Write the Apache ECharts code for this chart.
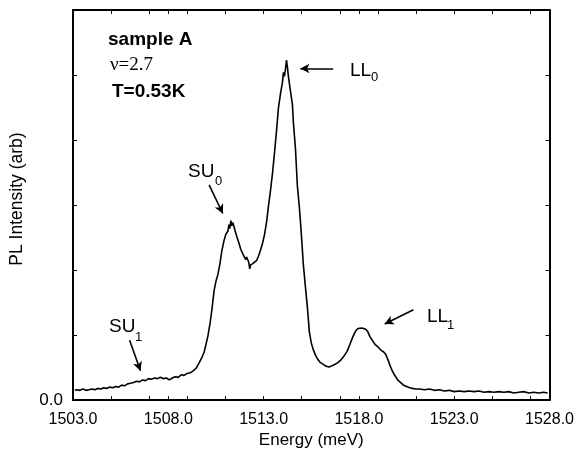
<!DOCTYPE html>
<html>
<head>
<meta charset="utf-8">
<script src="https://cdn.jsdelivr.net/npm/echarts@6/dist/echarts.min.js"></script>
<style>html,body{margin:0;padding:0;background:#fff;}#c{width:577px;height:454px;}</style>
</head>
<body>
<div id="c"></div>
<script>
// Energy (meV)
var energy = [
1503.10,1503.21,1503.36,1503.52,1503.68,1503.83,1503.99,1504.15,1504.30,1504.46,
1504.61,1504.77,1504.93,1505.08,1505.24,1505.40,1505.55,1505.71,1505.86,1506.02,
1506.18,1506.33,1506.49,1506.65,1506.80,1506.96,1507.11,1507.27,1507.43,1507.58,
1507.74,1507.90,1508.05,1508.21,1508.36,1508.52,1508.68,1508.83,1508.99,1509.15,
1509.30,1509.46,1509.61,1509.77,1509.88,1509.98,1510.08,1510.19,1510.29,1510.40,
1510.50,1510.60,1510.71,1510.81,1510.92,1511.02,1511.13,1511.18,1511.23,1511.28,
1511.33,1511.39,1511.49,1511.59,1511.70,1511.80,1511.91,1512.01,1512.06,1512.11,
1512.22,1512.27,1512.32,1512.43,1512.53,1512.64,1512.74,1512.84,1512.95,1513.05,
1513.16,1513.26,1513.36,1513.47,1513.57,1513.68,1513.78,1513.89,1513.99,1514.04,
1514.09,1514.15,1514.20,1514.25,1514.30,1514.41,1514.51,1514.56,1514.67,1514.77,
1514.88,1514.98,1515.08,1515.19,1515.29,1515.40,1515.50,1515.60,1515.71,1515.81,
1515.97,1516.13,1516.28,1516.44,1516.59,1516.75,1516.91,1517.06,1517.22,1517.38,
1517.53,1517.69,1517.84,1517.95,1518.05,1518.16,1518.26,1518.36,1518.47,1518.57,
1518.68,1518.83,1518.99,1519.15,1519.30,1519.41,1519.51,1519.61,1519.72,1519.82,
1519.93,1520.03,1520.19,1520.34,1520.50,1520.66,1520.81,1520.97,1521.18,1521.44,
1521.70,1521.96,1522.22,1522.48,1522.74,1523.00,1523.26,1523.52,1523.78,1524.04,
1524.30,1524.56,1524.82,1525.08,1525.34,1525.60,1525.86,1526.13,1526.39,1526.65,
1526.91,1527.17,1527.43,1527.69,1527.90
];
// PL intensity (arb)
var intensity = [
0.15,0.16,0.15,0.17,0.15,0.16,0.17,0.16,0.18,0.17,
0.19,0.18,0.20,0.19,0.21,0.20,0.23,0.22,0.25,0.26,
0.27,0.29,0.28,0.31,0.30,0.33,0.32,0.34,0.33,0.35,
0.33,0.34,0.31,0.34,0.36,0.35,0.39,0.38,0.41,0.42,
0.45,0.49,0.57,0.66,0.74,0.86,0.99,1.18,1.40,1.68,
1.83,1.93,2.10,2.30,2.45,2.55,2.60,2.70,2.64,2.76,
2.68,2.73,2.62,2.52,2.42,2.32,2.25,2.24,2.16,2.20,
2.12,2.02,2.08,2.10,2.08,2.15,2.22,2.31,2.42,2.55,
2.75,3.00,3.22,3.50,3.80,4.15,4.50,4.72,4.89,5.04,
4.98,5.10,5.23,5.12,4.98,4.75,4.55,4.28,3.87,3.30,
2.95,2.55,2.10,1.75,1.45,1.05,0.88,0.78,0.70,0.64,
0.58,0.55,0.52,0.51,0.53,0.55,0.58,0.62,0.68,0.75,
0.86,0.98,1.07,1.10,1.12,1.11,1.12,1.09,1.05,0.98,
0.93,0.86,0.82,0.77,0.74,0.70,0.63,0.55,0.47,0.41,
0.36,0.31,0.27,0.23,0.21,0.19,0.18,0.17,0.17,0.16,
0.17,0.15,0.16,0.14,0.15,0.13,0.14,0.13,0.14,0.13,
0.14,0.12,0.13,0.12,0.13,0.12,0.13,0.11,0.12,0.13,
0.11,0.12,0.11,0.12,0.11
];
var xTickLabels = ['1503.0','1508.0','1513.0','1518.0','1523.0','1528.0'];
var xMajorTicks = [1503, 1508, 1513, 1518, 1523, 1528];
var xAllTicks = [1503, 1505, 1507, 1508, 1509, 1511, 1513, 1515, 1517, 1518, 1519, 1521, 1523, 1525, 1527, 1528];
var yTickLabels = ['0.0'];

var font = '"Liberation Sans", Arial, sans-serif';
var serif = '"Liberation Serif", "Times New Roman", serif';
var data = energy.map(function (e, i) { return [e, intensity[i]]; });

var chart = echarts.init(document.getElementById('c'), null, {renderer: 'canvas'});
var black = '#000';
function frameX(pos, show) {
  return {
    type: 'value', position: pos, min: 1503, max: 1528, interval: 1,
    axisLine: {show: true, onZero: false, lineStyle: {color: black, width: 2}},
    axisTick: {show: true, inside: true, length: 4, customValues: xAllTicks, lineStyle: {color: black, width: 1}},
    axisLabel: {show: show, color: black, fontFamily: font, fontSize: 16, margin: 11,
      customValues: xMajorTicks,
      formatter: function (v) { return xTickLabels[xMajorTicks.indexOf(Math.round(v))] || ''; }},
    splitLine: {show: false}
  };
}
var xb = frameX('bottom', true);
xb.name = 'Energy (meV)';
xb.nameLocation = 'middle';
xb.nameGap = 24;
xb.nameTextStyle = {color: black, fontFamily: font, fontSize: 17};

var option = {
  animation: false,
  backgroundColor: '#fff',
  grid: {left: 71, right: 26, top: 10, bottom: 48},
  xAxis: [xb, frameX('top', false)],
  yAxis: [
    {type: 'value', position: 'left', min: 0, max: 6, interval: 1,
     axisLine: {show: true, onZero: false, lineStyle: {color: black, width: 2}},
     axisTick: {show: true, inside: true, length: 4, lineStyle: {color: black, width: 1}},
     axisLabel: {show: true, color: black, fontFamily: font, fontSize: 17, margin: 10,
       formatter: function (v) { return v === 0 ? yTickLabels[0] : ''; }},
     splitLine: {show: false},
     name: 'PL Intensity (arb)', nameLocation: 'middle', nameGap: 47,
     nameTextStyle: {color: black, fontFamily: font, fontSize: 17.5, padding: [0, 0, 0, 12]}},
    {type: 'value', position: 'right', min: 0, max: 6, interval: 1,
     axisLine: {show: true, onZero: false, lineStyle: {color: black, width: 2}},
     axisTick: {show: true, inside: true, length: 4, lineStyle: {color: black, width: 1}},
     axisLabel: {show: false}, splitLine: {show: false}}
  ],
  series: [{
    type: 'line', xAxisIndex: 0, yAxisIndex: 0, data: data,
    showSymbol: false, symbol: 'none', smooth: false,
    lineStyle: {color: black, width: 1.6},
    markLine: {
      silent: true, symbol: ['none', 'arrow'], symbolSize: [7, 9],
      label: {show: false},
      lineStyle: {color: black, type: 'solid', width: 1.6},
      data: [
        [{coord: [1516.65, 5.10]}, {coord: [1514.93, 5.10]}],
        [{coord: [1510.14, 3.31]}, {coord: [1510.86, 2.87]}],
        [{coord: [1505.97, 0.92]}, {coord: [1506.54, 0.45]}],
        [{coord: [1520.86, 1.39]}, {coord: [1519.35, 1.17]}]
      ]
    }
  }],
  graphic: [
    {type: 'text', style: {text: 'sample A', x: 108, y: 39.5, font: 'bold 19px ' + font, fill: black, verticalAlign: 'middle'}},
    {type: 'text', style: {text: 'ν=2.7', x: 110, y: 65.5, font: '19px ' + serif, fill: black, verticalAlign: 'middle'}},
    {type: 'text', style: {text: 'T=0.53K', x: 112, y: 92, font: 'bold 19px ' + font, fill: black, verticalAlign: 'middle'}},
    {type: 'text', style: {text: 'LL', x: 350, y: 70.5, font: '19px ' + font, fill: black, verticalAlign: 'middle'}},
    {type: 'text', style: {text: '0', x: 371, y: 77.5, font: '13px ' + font, fill: black, verticalAlign: 'middle'}},
    {type: 'text', style: {text: 'SU', x: 188, y: 172, font: '19px ' + font, fill: black, verticalAlign: 'middle'}},
    {type: 'text', style: {text: '0', x: 215, y: 181, font: '13px ' + font, fill: black, verticalAlign: 'middle'}},
    {type: 'text', style: {text: 'SU', x: 109, y: 327, font: '19px ' + font, fill: black, verticalAlign: 'middle'}},
    {type: 'text', style: {text: '1', x: 135, y: 337.5, font: '13px ' + font, fill: black, verticalAlign: 'middle'}},
    {type: 'text', style: {text: 'LL', x: 427, y: 317, font: '19px ' + font, fill: black, verticalAlign: 'middle'}},
    {type: 'text', style: {text: '1', x: 447, y: 325, font: '13px ' + font, fill: black, verticalAlign: 'middle'}}
  ]
};
chart.setOption(option);
</script>
</body>
</html>
